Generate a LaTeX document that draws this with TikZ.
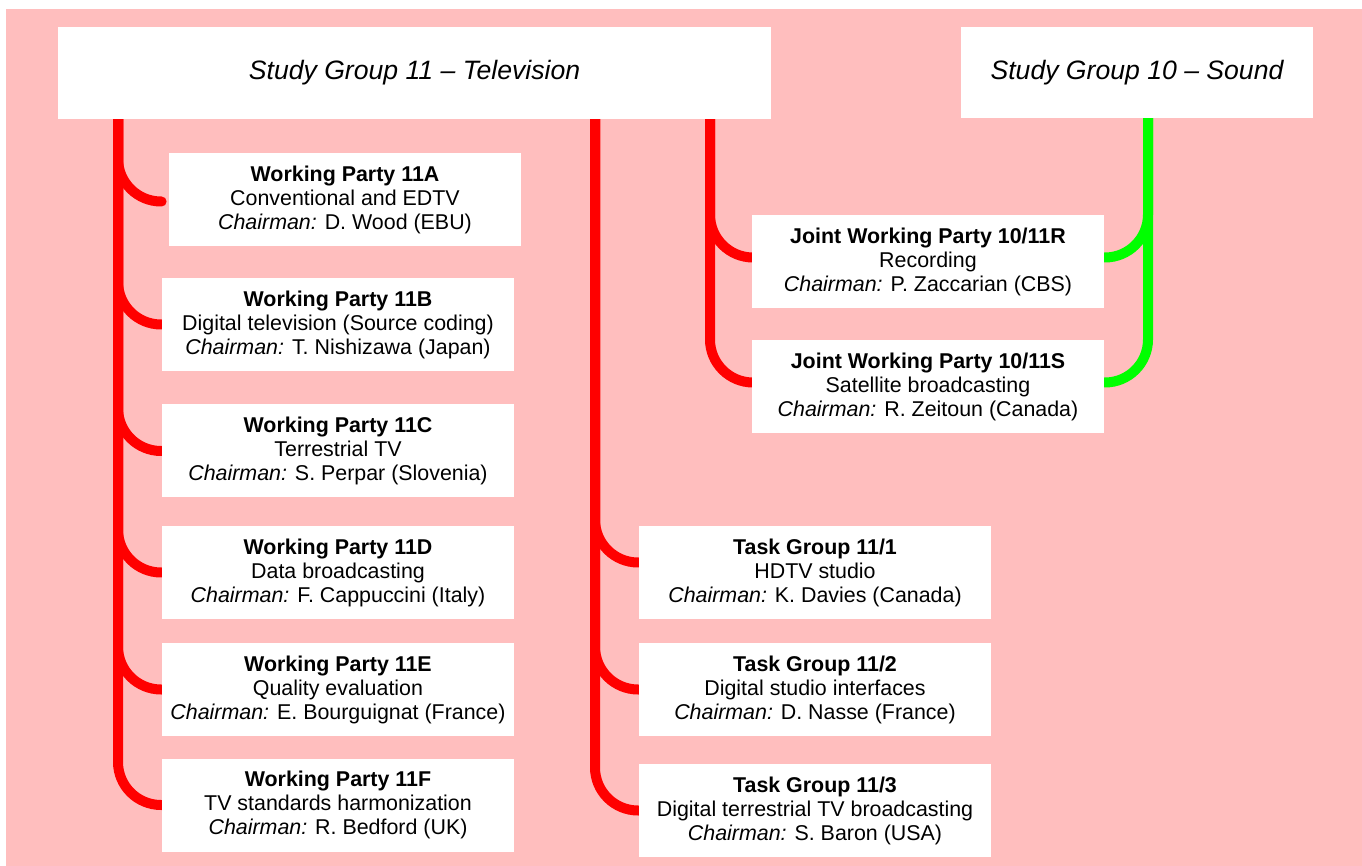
\documentclass[tikz,border=0pt]{standalone}
\usepackage{fontspec}
\setmainfont{Liberation Sans}
\pgfdeclarelayer{bg}
\pgfdeclarelayer{lines}
\pgfsetlayers{bg,lines,main}
\definecolor{pagepink}{HTML}{FFBEBE}
\definecolor{linkred}{HTML}{FF0000}
\definecolor{linkgreen}{HTML}{00FF00}
\newcommand{\partyfont}{\fontsize{10.7}{12}\selectfont}
\newcommand{\groupfont}{\fontsize{13.3}{15}\selectfont\itshape}
\tikzset{
  partybox/.style={fill=white, inner sep=0pt, minimum width=176pt,
    minimum height=46.5pt, align=center, font=\partyfont},
  groupbox/.style={fill=white, inner sep=0pt, minimum height=46pt,
    align=center, font=\groupfont},
  link/.style={line width=5pt, line cap=round, rounded corners=21.5pt},
  redlink/.style={link, draw=linkred},
  greenlink/.style={link, draw=linkgreen}
}
\begin{document}
\begin{tikzpicture}[x=0.5pt, y=-0.5pt]
  \useasboundingbox (0,0) rectangle (1362,866);
  \begin{pgfonlayer}{bg}
    \fill[pagepink] (6,9) rectangle (1362,866);
  \end{pgfonlayer}

  % study groups
  \node[groupbox, minimum width=356.5pt] (sg11) at (414.5,73) {Study Group 11 -- Television};
  \node[groupbox, minimum width=176pt, minimum height=45.5pt] (sg10) at (1137,72.5) {Study Group 10 -- Sound};

  % working parties
  \node[partybox] (wpA) at (345,199.5) {\textbf{Working Party 11A}\\Conventional and EDTV\\\textit{Chairman:} D. Wood (EBU)};
  \node[partybox] (wpB) at (338,324.5) {\textbf{Working Party 11B}\\Digital television (Source coding)\\\textit{Chairman:} T. Nishizawa (Japan)};
  \node[partybox] (wpC) at (338,451) {\textbf{Working Party 11C}\\Terrestrial TV\\\textit{Chairman:} S. Perpar (Slovenia)};
  \node[partybox] (wpD) at (338,572.5) {\textbf{Working Party 11D}\\Data broadcasting\\\textit{Chairman:} F. Cappuccini (Italy)};
  \node[partybox] (wpE) at (338,689.5) {\textbf{Working Party 11E}\\Quality evaluation\\\textit{Chairman:} E. Bourguignat (France)};
  \node[partybox] (wpF) at (338,805) {\textbf{Working Party 11F}\\TV standards harmonization\\\textit{Chairman:} R. Bedford (UK)};

  % joint working parties
  \node[partybox] (jwR) at (928,261.5) {\textbf{Joint Working Party 10/11R}\\Recording\\\textit{Chairman:} P. Zaccarian (CBS)};
  \node[partybox] (jwS) at (928,386.5) {\textbf{Joint Working Party 10/11S}\\Satellite broadcasting\\\textit{Chairman:} R. Zeitoun (Canada)};

  % task groups
  \node[partybox] (tg1) at (815,572.5) {\textbf{Task Group 11/1}\\HDTV studio\\\textit{Chairman:} K. Davies (Canada)};
  \node[partybox] (tg2) at (815,689.5) {\textbf{Task Group 11/2}\\Digital studio interfaces\\\textit{Chairman:} D. Nasse (France)};
  \node[partybox] (tg3) at (815,810.5) {\textbf{Task Group 11/3}\\Digital terrestrial TV broadcasting\\\textit{Chairman:} S. Baron (USA)};

  % trunk positions
  \coordinate (trunkWP) at (118,0);
  \coordinate (trunkTG) at (595,0);
  \coordinate (trunkJW) at (710,0);
  \coordinate (trunkSnd) at (1148,0);

  \begin{pgfonlayer}{lines}
    \draw[redlink] (trunkWP |- sg11.center) |- ([xshift=-3.5pt,yshift=-1pt]wpA.west);
    \foreach \n in {wpB,wpC,wpD,wpE,wpF}
      \draw[redlink] (trunkWP |- sg11.center) |- (\n.west);
    \draw[redlink] (trunkTG |- sg11.center) |- ([yshift=5pt]tg1.west);
    \foreach \n in {tg2,tg3}
      \draw[redlink] (trunkTG |- sg11.center) |- (\n.west);
    \foreach \n in {jwR,jwS}
      \draw[redlink] (trunkJW |- sg11.center) |- ([yshift=2pt]\n.west);
    \foreach \n in {jwR,jwS}
      \draw[greenlink] (trunkSnd |- sg10.center) |- ([yshift=2pt]\n.east);
  \end{pgfonlayer}
\end{tikzpicture}
\end{document}
